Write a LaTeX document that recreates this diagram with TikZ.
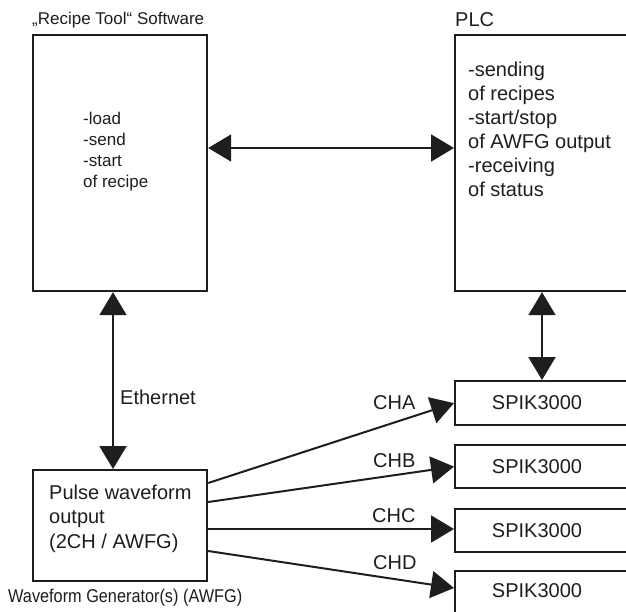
\documentclass[tikz,border=0pt]{standalone}
\usepackage{fontspec}
\setmainfont{Liberation Sans}
\newfontfamily\narrowfont[FakeStretch=0.88]{Liberation Sans}
\usetikzlibrary{arrows.meta}
\definecolor{ink}{RGB}{30,30,30}
\begin{document}
\begin{tikzpicture}[x=1pt,y=-1pt,
  box/.style={draw=ink, line width=2.2pt, inner sep=0pt, anchor=north west},
  lbl/.style={inner sep=0pt, text=ink, font=\fontsize{20}{24}\selectfont},
  tip/.style={},
  both/.style={draw=ink, line width=2pt, {Triangle[length=23pt,width=27pt]}-{Triangle[length=23pt,width=27pt]}},
  one/.style={draw=ink, line width=2pt, -{Triangle[length=23pt,width=27pt]}}]
\useasboundingbox (0,0) rectangle (626,611);
\clip (0,0) rectangle (626,611);
\fill[white] (0,0) rectangle (626,611);
% boxes
\node[box, minimum width=174pt, minimum height=256pt] (recipe) at (32,34) {};
\node[box, minimum width=250pt, minimum height=256pt] (plc) at (454,34) {};
\node[box, minimum width=174pt, minimum height=111pt] (awfg) at (32,469) {};
\node[box, minimum width=250pt, minimum height=44pt] (spik1) at (454,380) {};
\node[box, minimum width=250pt, minimum height=43pt] (spik2) at (454,444) {};
\node[box, minimum width=250pt, minimum height=43pt] (spik3) at (454,508) {};
\node[box, minimum width=250pt, minimum height=60pt] (spik4) at (454,570) {};
% titles
\node[lbl, anchor=base west, font=\fontsize{17}{20}\selectfont] (rtitle) at (32,24) {„Recipe Tool“ Software};
\node[lbl, anchor=base west] (ptitle) at (455,26) {PLC};
\node[lbl, anchor=base west, font=\fontsize{18.5}{22}\narrowfont] (atitle) at (8,602) {Waveform Generator(s) (AWFG)};
% box texts
\node[lbl, anchor=base west, font=\fontsize{17}{21}\selectfont] (rtext) at (83,124)
  {\begin{tabular}[t]{@{}l@{}}-load\\-send\\-start\\of recipe\end{tabular}};
\node[lbl, anchor=base west] (ptext) at (468,76)
  {\begin{tabular}[t]{@{}l@{}}-sending\\of recipes\\-start/stop\\of AWFG output\\-receiving\\of status\end{tabular}};
\node[lbl, anchor=base west, font=\fontsize{20}{24.5}\selectfont] (atext) at (49,499)
  {\begin{tabular}[t]{@{}l@{}}Pulse waveform\\output\\(2CH / AWFG)\end{tabular}};
\node[lbl, anchor=base] (s1) at (537,409) {SPIK3000};
\node[lbl, anchor=base] (s2) at (537,473) {SPIK3000};
\node[lbl, anchor=base] (s3) at (537,537) {SPIK3000};
\node[lbl, anchor=base] (s4) at (537,597) {SPIK3000};
% connector labels
\node[lbl, anchor=base west] (eth) at (120,404) {Ethernet};
\node[lbl, anchor=base west] (cha) at (373,409) {CHA};
\node[lbl, anchor=base west] (chb) at (373,467) {CHB};
\node[lbl, anchor=base west] (chc) at (372,522) {CHC};
\node[lbl, anchor=base west] (chd) at (373,569) {CHD};
% helper coordinates
\coordinate (hy) at (0,148);
\coordinate (ex) at (113,0);
\coordinate (px) at (542,0);
\coordinate (a1) at (0,483);
\coordinate (a2) at (0,502);
\coordinate (a3) at (0,529);
\coordinate (a4) at (0,551);
\coordinate (d4) at (0,588);
% connectors
\draw[both] (recipe.east |- hy) -- (plc.west |- hy);
\draw[both] (recipe.south -| ex) -- (awfg.north -| ex);
\draw[both] (plc.south -| px) -- (spik1.north -| px);
\draw[one] (awfg.east |- a1) -- (spik1.west);
\draw[one] (awfg.east |- a2) -- (spik2.west);
\draw[one] (awfg.east |- a3) -- (spik3.west |- a3);
\draw[one] (awfg.east |- a4) -- (spik4.west |- d4);
\end{tikzpicture}
\end{document}
